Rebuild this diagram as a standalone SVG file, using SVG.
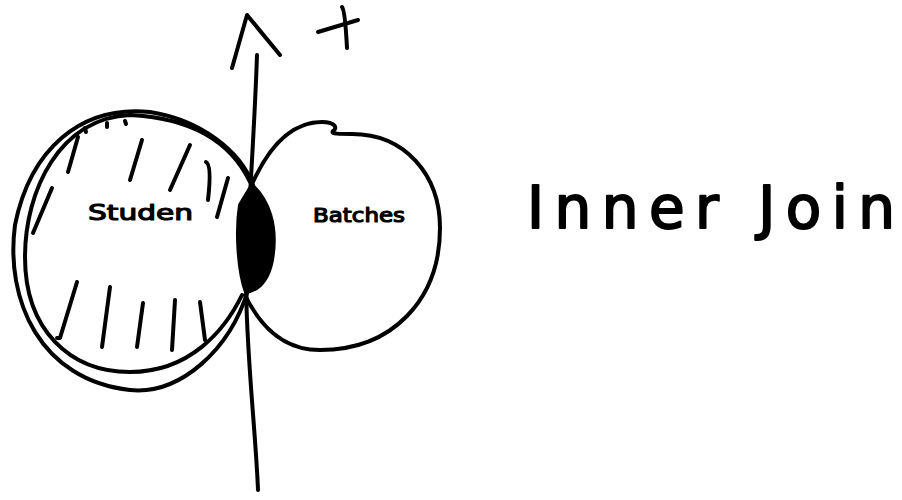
<svg xmlns="http://www.w3.org/2000/svg" width="902" height="500" viewBox="0 0 902 500">
<style>
.s{fill:none;stroke:#000;stroke-width:4;stroke-linecap:round;stroke-linejoin:round}
.t{font-family:"DejaVu Sans","Liberation Sans",sans-serif;fill:#000;stroke:#000;stroke-linejoin:round}
</style>
<rect width="902" height="500" fill="#fff"/>
<g id="student">
<path class="s" d="M253,185 C240,150 200,120 150,112 C80,105 30,150 15,225 C5,300 40,380 130,390 C180,395 230,350 248,290"/>
<path class="s" d="M250,182 C230,140 190,118 130,115 C60,118 25,190 25,257 C25,330 70,372 130,372 C190,372 225,330 242,295"/>
<g class="s">
<path d="M52,188 L33,233"/>
<path d="M78,137 L68,172"/>
<path d="M142,140 L130,180"/>
<path d="M190,145 L170,190"/>
<path d="M206,162 Q212,165 208,200"/>
<path d="M228,178 L217,217"/>
<path d="M85,128 L86,132"/>
<path d="M107,123 L107,127"/>
<path d="M125,121 L126,124"/>
<path d="M77,282 L60,338 L57,338"/>
<path d="M110,287 L102,347"/>
<path d="M143,303 L137,347"/>
<path d="M175,300 L172,350"/>
<path d="M200,302 L205,340"/>
</g>
<text class="t" x="88" y="220" font-size="22" stroke-width="1.2" textLength="105" lengthAdjust="spacingAndGlyphs">Studen</text>
</g>
<g id="batches">
<path class="s" d="M253,182 C270,145 292,122 322,122 C335,122 338,128 333,131 C330,134 340,134 352,134 C405,134 440,175 440,228 C440,300 392,350 320,350 C280,350 258,322 245,295"/>
<text class="t" x="313" y="222" font-size="20" stroke-width="1.2" textLength="92" lengthAdjust="spacingAndGlyphs">Batches</text>
</g>
<g id="overlap">
<path d="M252,185 C268,200 278,225 272,260 C268,280 258,290 246,292 C238,270 236,230 240,205 Z" fill="#000" stroke="#000" stroke-width="4" stroke-linejoin="round"/>
</g>
<g id="connectors">
<path class="s" d="M257,55 C254,150 244,260 247,320 C250,390 256,440 258,490" stroke-width="5"/>
<path class="s" d="M232,68 L247,15 L280,55" stroke-width="5"/>
<path class="s" d="M318,32 L358,20"/>
<path class="s" d="M342,7 Q345,10 347,48"/>
</g>
<text class="t" x="527" y="228" font-size="58" stroke-width="2" textLength="368" lengthAdjust="spacing">Inner Join</text>
</svg>
